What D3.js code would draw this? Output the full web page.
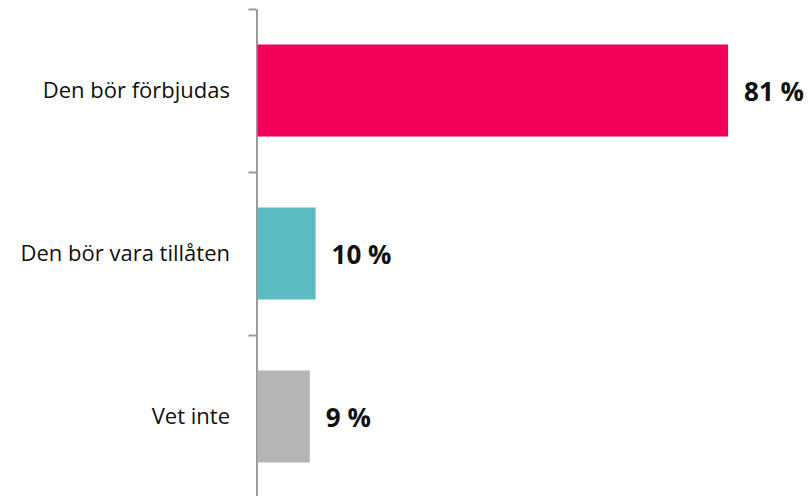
<!DOCTYPE html>
<html lang="sv">
  <head>
    <meta charset="UTF-8" />
    <title>Den bör förbjudas</title>
    <script src="https://d3js.org/d3.v7.min.js"></script>
    <style>
      body { margin: 0; background: #fff; }
    </style>
  </head>
  <body>
    <div id="chart"></div>
    <script>
      const categories = ["Den bör förbjudas", "Den bör vara tillåten", "Vet inte"];
      const values = [81, 10, 9];
      const colors = ["#f2005c", "#5bbcc4", "#b5b5b5"];

      const width = 811;
      const height = 496;
      const axisX = 256.5;

      const svg = d3
        .select("#chart")
        .append("svg")
        .attr("width", width)
        .attr("height", height);

      // bands run from the top tick down past the bottom edge
      const y = d3.scaleBand().domain(categories).range([9, 498]);
      const x = d3.scaleLinear().domain([0, 100]).range([axisX, axisX + 581]);
      const barH = 92;

      // axis with ticks between the categories
      const yTicks = d3.scaleLinear().domain([0, categories.length]).range([9, 498]);
      svg
        .append("g")
        .attr("transform", `translate(${axisX},0)`)
        .call(
          d3.axisLeft(yTicks)
            .tickValues(d3.range(categories.length + 1))
            .tickFormat("")
            .tickSize(8)
            .tickSizeOuter(0)
        )
        .call((g) => g.selectAll("path, line").attr("stroke", "#9a9a9a").attr("stroke-width", 2));

      svg
        .selectAll(".bar")
        .data(categories)
        .enter()
        .append("rect")
        .attr("class", "bar")
        .attr("x", axisX + 1)
        .attr("y", (d) => y(d) + (y.bandwidth() - barH) / 2)
        .attr("width", (d, i) => x(values[i]) - axisX)
        .attr("height", barH)
        .attr("fill", (d, i) => colors[i]);

      svg
        .selectAll(".cat")
        .data(categories)
        .enter()
        .append("text")
        .attr("class", "cat")
        .attr("x", 230)
        .attr("y", (d) => y(d) + y.bandwidth() / 2)
        .attr("dy", "0.35em")
        .attr("text-anchor", "end")
        .style("font-family", "'Open Sans', sans-serif")
        .style("font-size", "22px")
        .style("fill", "#111")
        .text((d) => d);

      svg
        .selectAll(".val")
        .data(categories)
        .enter()
        .append("text")
        .attr("class", "val")
        .attr("x", (d, i) => x(values[i]) + 17)
        .attr("y", (d) => y(d) + y.bandwidth() / 2 + 1)
        .attr("dy", "0.35em")
        .style("font-family", "'Open Sans', sans-serif")
        .style("font-weight", "bold")
        .style("font-size", "26px")
        .style("fill", "#111")
        .text((d, i) => values[i] + " %");
    </script>
  </body>
</html>
